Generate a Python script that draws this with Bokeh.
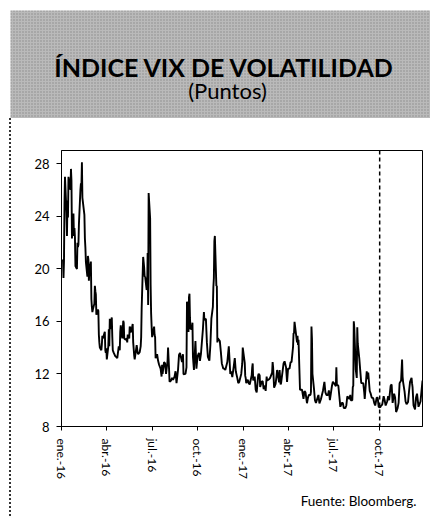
import pandas as pd
from bokeh.plotting import figure
from bokeh.models import (Range1d, Span, Label, BoxAnnotation, MonthsTicker, Title,
                          SingleIntervalTicker, CustomJSTickFormatter, ColumnDataSource)
from bokeh.embed import file_html
from bokeh.resources import INLINE

title_text = "ÍNDICE VIX DE VOLATILIDAD"
subtitle_text = "(Puntos)"
source_text = "Fuente: Bloomberg."
split_date = "2017-10-01"
x_start, x_end = "2016-01-01", "2017-12-26"
y_start, y_end, y_step = 8, 29, 4
month_names = ["ene.", "feb.", "mar.", "abr.", "may.", "jun.",
               "jul.", "ago.", "set.", "oct.", "nov.", "dic."]

# --- 2016 ---
d16_q1 = ["01-04","01-05","01-06","01-07","01-08","01-11","01-12","01-13","01-14","01-15",
          "01-19","01-20","01-21","01-22","01-25","01-26","01-27","01-28","01-29",
          "02-01","02-02","02-03","02-04","02-05","02-08","02-09","02-10","02-11","02-12",
          "02-16","02-17","02-18","02-19","02-22","02-23","02-24","02-25","02-26","02-29",
          "03-01","03-02","03-03","03-04","03-07","03-08","03-09","03-10","03-11","03-14",
          "03-15","03-16","03-17","03-18","03-21","03-22","03-23","03-24","03-28","03-29",
          "03-30","03-31"]
v16_q1 = [20.7,19.3,20.6,25.0,27.0,24.3,22.5,25.2,23.9,27.0,
          26.0,27.6,26.7,22.3,24.2,22.5,23.1,22.4,20.2,
          19.98,21.98,21.65,21.84,23.4,26.0,26.5,26.3,28.1,25.4,
          24.1,22.3,21.6,20.5,19.4,20.98,20.7,19.1,19.8,20.55,
          17.7,17.1,16.7,16.9,17.35,18.7,18.3,18.05,16.5,16.9,
          16.8,15.0,14.4,14.0,13.8,14.2,14.9,14.7,15.2,13.8,
          13.6,13.95]
d16_q2 = ["04-01","04-04","04-05","04-06","04-07","04-08","04-11","04-12","04-13","04-14",
          "04-15","04-18","04-20","04-22","04-25","04-27","04-28","04-29",
          "05-02","05-04","05-05","05-06","05-09","05-11","05-12","05-13","05-16","05-17",
          "05-18","05-19","05-20","05-23","05-24","05-26","05-27","05-31",
          "06-02","06-03","06-06","06-08","06-09","06-10","06-13","06-14","06-15","06-16",
          "06-17","06-20","06-21","06-22","06-23","06-24","06-27","06-28","06-29","06-30"]
v16_q2 = [13.1,14.1,15.4,14.1,16.2,15.4,16.3,14.85,13.8,13.7,
          13.6,13.35,13.3,13.2,14.1,13.8,15.2,15.7,
          14.7,16.05,15.9,14.7,14.6,14.7,14.4,15.0,14.7,15.6,
          15.5,15.2,15.2,15.8,14.4,13.4,13.1,14.2,
          13.6,13.5,13.65,14.1,14.8,17.0,20.9,20.5,20.1,19.4,
          19.4,18.4,18.5,21.2,17.25,25.76,23.85,18.75,16.6,15.6]
d16_q3 = ["07-01","07-05","07-06","07-07","07-08","07-11","07-13","07-15","07-18","07-20",
          "07-21","07-22","07-25","07-27","07-29",
          "08-01","08-02","08-04","08-05","08-08","08-10","08-12","08-15","08-17","08-19",
          "08-22","08-24","08-26","08-30",
          "09-01","09-02","09-06","09-08","09-09","09-12","09-13","09-14","09-15","09-16",
          "09-19","09-20","09-21","09-23","09-26","09-28","09-30"]
v16_q3 = [14.8,15.6,14.96,14.8,13.2,13.5,13.0,12.7,12.4,11.8,
          12.7,12.0,12.9,12.8,12.0,
          13.0,14.0,12.4,11.4,11.5,11.7,11.55,11.8,12.2,11.3,
          12.3,13.45,13.6,12.9,
          13.5,11.98,12.0,12.5,17.5,15.2,17.85,18.1,16.3,15.4,
          15.5,15.9,13.3,12.3,14.5,12.4,13.3]
d16_q4 = ["10-03","10-05","10-07","10-11","10-13","10-14","10-17","10-19","10-21","10-24",
          "10-26","10-28","10-31",
          "11-01","11-02","11-03","11-04","11-07","11-08","11-09","11-10","11-14","11-16",
          "11-18","11-21","11-23","11-25","11-29","11-30",
          "12-02","12-05","12-07","12-09","12-12","12-14","12-16","12-19","12-21","12-23",
          "12-27","12-29","12-30"]
v16_q4 = [13.6,12.99,13.5,15.4,16.7,16.1,16.2,14.4,13.3,13.0,
          14.2,16.2,17.1,
          18.6,19.3,22.1,22.5,18.7,18.7,14.4,14.7,14.5,13.7,
          12.8,12.4,12.4,12.3,12.9,13.3,
          14.1,12.0,12.2,11.75,12.6,13.2,12.2,11.7,11.3,11.4,
          12.0,12.8,14.0]

# --- 2017 ---
d17_q1 = ["01-03","01-04","01-05","01-06","01-09","01-11","01-13","01-17","01-18","01-19",
          "01-20","01-23","01-25","01-27","01-30","01-31",
          "02-02","02-03","02-06","02-08","02-10","02-13","02-14","02-16","02-17","02-21",
          "02-23","02-27","02-28",
          "03-01","03-03","03-06","03-08","03-09","03-13","03-14","03-16","03-17","03-21",
          "03-22","03-24","03-27","03-29","03-31"]
v17_q1 = [12.85,11.85,11.67,11.3,11.56,11.3,11.2,11.9,12.5,12.8,
          11.5,11.8,10.8,10.6,11.9,12.0,
          11.9,11.0,11.4,11.45,10.85,11.1,10.7,11.8,11.5,11.6,
          11.7,12.1,12.9,
          12.5,10.96,11.24,11.9,12.3,11.35,12.3,11.2,11.3,12.5,
          12.8,12.96,12.5,11.4,12.4]
d17_q2 = ["04-03","04-05","04-07","04-10","04-11","04-12","04-13","04-17","04-18","04-19",
          "04-20","04-21","04-24","04-26","04-28",
          "05-01","05-03","05-05","05-08","05-10","05-12","05-15","05-16","05-17","05-18",
          "05-19","05-22","05-24","05-26","05-31",
          "06-02","06-05","06-07","06-09","06-12","06-14","06-16","06-19","06-21","06-23",
          "06-27","06-29"]
v17_q2 = [12.4,12.9,12.9,14.05,15.1,15.1,15.96,14.7,14.4,14.9,
          14.2,14.6,10.8,10.8,10.8,
          10.1,10.7,10.6,9.77,10.2,10.4,10.4,10.65,15.6,14.7,
          12.0,10.9,10.0,9.8,10.4,
          9.75,10.07,10.4,10.7,11.4,10.6,10.4,10.4,10.75,10.0,
          11.06,11.4]
d17_q3 = ["07-03","07-05","07-06","07-07","07-10","07-12","07-14","07-17","07-19","07-21",
          "07-24","07-26","07-28",
          "08-01","08-03","08-04","08-07","08-08","08-09","08-10","08-11","08-14","08-15",
          "08-16","08-17","08-18","08-21","08-23","08-25","08-29","08-31",
          "09-01","09-05","09-07","09-08","09-11","09-13","09-15","09-18","09-20","09-22",
          "09-25","09-27","09-29"]
v17_q3 = [11.2,11.07,12.5,11.2,11.1,10.3,9.5,9.8,9.8,9.4,
          9.4,9.6,10.3,
          10.1,10.4,10.0,10.0,11.0,11.1,16.0,15.5,12.3,12.0,
          11.7,15.55,14.3,13.2,12.25,11.3,11.3,10.6,
          10.1,12.2,11.6,12.1,10.7,10.5,10.2,10.15,9.8,9.6,
          10.2,10.2,9.5]
d17_q4 = ["10-02","10-04","10-06","10-09","10-11","10-13","10-16","10-18","10-20","10-23",
          "10-25","10-27","10-30",
          "11-01","11-03","11-06","11-08","11-10","11-13","11-15","11-16","11-17","11-20",
          "11-22","11-24","11-27","11-29",
          "12-01","12-04","12-05","12-06","12-08","12-11","12-13","12-15","12-18","12-20",
          "12-22","12-26"]
v17_q4 = [9.45,9.6,9.65,10.3,10.0,9.6,9.9,10.3,10.0,11.1,
          11.2,9.8,10.5,
          10.2,9.1,9.4,9.8,11.3,11.5,13.1,11.8,11.4,10.65,
          9.9,9.7,9.87,10.7,
          11.4,11.7,11.3,11.0,9.6,9.3,10.2,10.5,9.5,9.7,
          9.9,11.5]

dates, vals = [], []
for yr, ds, vs in [("2016", d16_q1, v16_q1), ("2016", d16_q2, v16_q2),
                   ("2016", d16_q3, v16_q3), ("2016", d16_q4, v16_q4),
                   ("2017", d17_q1, v17_q1), ("2017", d17_q2, v17_q2),
                   ("2017", d17_q3, v17_q3), ("2017", d17_q4, v17_q4)]:
    assert len(ds) == len(vs), (yr, ds[0], len(ds), len(vs))
    dates += [pd.Timestamp(f"{yr}-{d}") for d in ds]
    vals += vs

FONT = "Lato"

# ---------------- header band (own figure, frame = whole canvas) ----------------
h = figure(width=430, height=118, x_range=Range1d(0, 430), y_range=Range1d(118, 0),
           toolbar_location=None, output_backend="svg",
           x_axis_location=None, y_axis_location=None,
           min_border=0, min_border_left=0, min_border_right=0,
           min_border_top=0, min_border_bottom=0)
h.grid.visible = False
h.outline_line_color = None
h.background_fill_color = "white"
h.border_fill_color = "white"
h.add_layout(BoxAnnotation(left=10, right=430, top=10, bottom=118,
                           fill_color="#bababa", fill_alpha=1, line_color=None,
                           hatch_pattern="dot", hatch_color="#555555",
                           hatch_scale=3, hatch_alpha=0.5))
h.add_layout(Label(x=224, y=66, text=title_text, text_font=FONT, text_font_style="bold",
                   text_font_size="25px", text_color="black", text_align="center",
                   text_baseline="alphabetic"))
h.add_layout(Label(x=227, y=90, text=subtitle_text, text_font=FONT,
                   text_font_size="22px", text_color="black", text_align="center",
                   text_baseline="alphabetic"))

# ---------------- chart ----------------
src = ColumnDataSource(dict(date=dates, vix=vals))
p = figure(width=419, height=398, x_axis_type="datetime",
           x_range=Range1d(pd.Timestamp(x_start), pd.Timestamp(x_end)),
           y_range=Range1d(y_start, y_end),
           toolbar_location=None, output_backend="svg",
           min_border_left=50, min_border_right=8, min_border_top=32, min_border_bottom=86)
p.styles = {"margin-left": "9px", "border-left": "2px dotted #333333"}
p.grid.visible = False
p.outline_line_color = "black"
p.outline_line_width = 1
p.background_fill_color = "white"
p.border_fill_color = "white"

p.line("date", "vix", source=src, line_color="black", line_width=1.9)

p.add_layout(Span(location=pd.Timestamp(split_date).value / 1e6, dimension="height",
                  line_color="black", line_width=1.5, line_dash="4 3"))

p.yaxis.ticker = SingleIntervalTicker(interval=y_step)
p.yaxis.minor_tick_line_color = None
p.yaxis.major_tick_in = 0
p.yaxis.major_tick_out = 5
p.yaxis.major_label_standoff = 7
p.yaxis.major_label_text_font = FONT
p.yaxis.major_label_text_font_size = "13px"
p.yaxis.major_label_text_color = "black"
p.yaxis.axis_line_color = "black"

p.xaxis.ticker = MonthsTicker(months=[0, 3, 6, 9])
p.xaxis.formatter = CustomJSTickFormatter(args=dict(names=month_names), code="""
    const d = new Date(tick);
    return names[d.getUTCMonth()] + "-" + String(d.getUTCFullYear()).slice(2);
""")
p.xaxis.major_label_orientation = "vertical"
p.xaxis.minor_tick_line_color = None
p.xaxis.major_tick_in = 0
p.xaxis.major_tick_out = 4
p.xaxis.major_label_standoff = 8
p.xaxis.major_label_text_font = FONT
p.xaxis.major_label_text_font_size = "12px"
p.xaxis.major_label_text_color = "black"
p.xaxis.axis_line_color = "black"

p.add_layout(Title(text=source_text, align="right", offset=6, standoff=16,
                   text_font=FONT, text_font_size="13.5px", text_font_style="normal",
                   text_color="black"), "below")

open("out.html", "w").write(file_html([h, p], INLINE))
